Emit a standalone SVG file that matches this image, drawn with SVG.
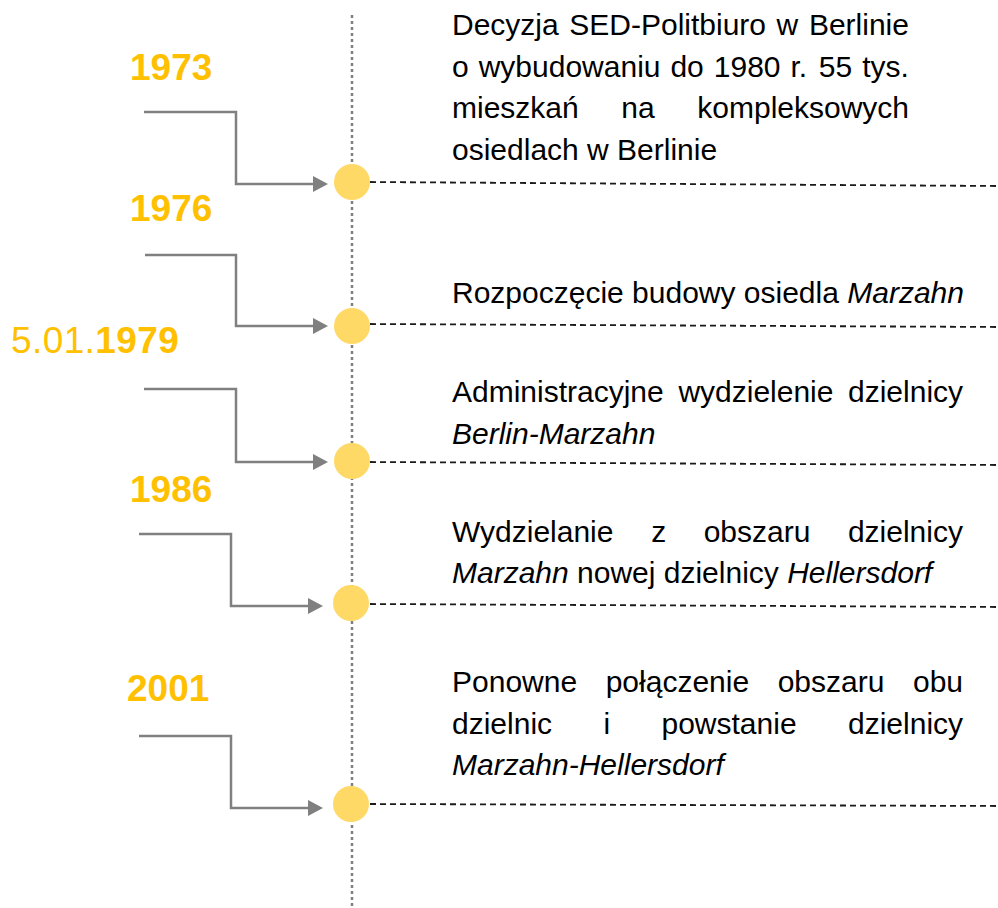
<svg xmlns="http://www.w3.org/2000/svg" width="998" height="908" viewBox="0 0 998 908">
<style>
.year{font-family:"Liberation Sans",Arial,sans-serif;font-size:37px;font-weight:bold;fill:#FFC000}
.yearR{font-weight:normal}
.txt{font-family:"Liberation Sans",Arial,sans-serif;font-size:30px;fill:#000}
.it{font-style:italic}
.conn{fill:none;stroke:#808080;stroke-width:2.5}
.axis{fill:none;stroke:#808080;stroke-width:2.5;stroke-dasharray:3 3}
.dash{fill:none;stroke:#1a1a1a;stroke-width:1.8;stroke-dasharray:6 4}
.dot{fill:#FFD966}
</style>
<defs>
<marker id="arr" viewBox="0 0 15 16" refX="1" refY="8" markerWidth="15" markerHeight="16" markerUnits="userSpaceOnUse" orient="auto">
<path d="M0,0 L15,8 L0,16 z" fill="#808080"/>
</marker>
</defs>

<g id="axis">
<line class="axis" x1="352" y1="15" x2="352" y2="908"/>
</g>

<g id="connectors">
<path class="conn" d="M144,112 H236 V184 H314" marker-end="url(#arr)"/>
<path class="conn" d="M145,255 H236 V326 H314" marker-end="url(#arr)"/>
<path class="conn" d="M144,389 H236 V462 H314" marker-end="url(#arr)"/>
<path class="conn" d="M139,534 H231 V606 H309" marker-end="url(#arr)"/>
<path class="conn" d="M139,736 H231 V808 H309" marker-end="url(#arr)"/>
<line class="dash" x1="370" y1="182" x2="998" y2="186"/>
<line class="dash" x1="370" y1="324" x2="998" y2="327"/>
<line class="dash" x1="370" y1="462" x2="998" y2="465"/>
<line class="dash" x1="370" y1="604" x2="998" y2="607"/>
<line class="dash" x1="370" y1="804" x2="998" y2="806"/>
</g>

<g id="event-1973">
<text class="year" x="130" y="80">1973</text>
<circle class="dot" cx="352" cy="182" r="18"/>
<text class="txt" y="35"><tspan x="452">Decyzja</tspan><tspan x="569.3">SED-Politbiuro</tspan><tspan x="776.6">w</tspan><tspan x="808.9">Berlinie</tspan></text>
<text class="txt" y="76.5"><tspan x="452">o</tspan><tspan x="478.7">wybudowaniu</tspan><tspan x="670.4">do</tspan><tspan x="713.8">1980</tspan><tspan x="790.5">r.</tspan><tspan x="818.8">55</tspan><tspan x="862.2">tys.</tspan></text>
<text class="txt" y="118"><tspan x="452">mieszkań</tspan><tspan x="621.3">na</tspan><tspan x="697.3">kompleksowych</tspan></text>
<text class="txt" x="452" y="159.5">osiedlach w Berlinie</text>
</g>

<g id="event-1976">
<text class="year" x="130" y="221">1976</text>
<circle class="dot" cx="352" cy="326" r="18"/>
<text class="txt" x="452" y="303">Rozpoczęcie budowy osiedla <tspan class="it">Marzahn</tspan></text>
</g>

<g id="event-1979">
<text class="year" x="11" y="353" letter-spacing="0.4"><tspan class="yearR">5.01.</tspan>1979</text>
<circle class="dot" cx="352" cy="461" r="18"/>
<text class="txt" y="402"><tspan x="452">Administracyjne</tspan><tspan x="678.4">wydzielenie</tspan><tspan x="848">dzielnicy</tspan></text>
<text class="txt it" x="452" y="443.5">Berlin-Marzahn</text>
</g>

<g id="event-1986">
<text class="year" x="130" y="502">1986</text>
<circle class="dot" cx="351" cy="603" r="18"/>
<text class="txt" y="541.5"><tspan x="452">Wydzielanie</tspan><tspan x="651.2">z</tspan><tspan x="703.7">obszaru</tspan><tspan x="847.9">dzielnicy</tspan></text>
<text class="txt" x="452" y="583"><tspan class="it">Marzahn</tspan> nowej dzielnicy <tspan class="it">Hellersdorf</tspan></text>
</g>

<g id="event-2001">
<text class="year" x="127" y="701">2001</text>
<circle class="dot" cx="351" cy="804" r="18"/>
<text class="txt" y="692"><tspan x="452">Ponowne</tspan><tspan x="605.7">połączenie</tspan><tspan x="777.7">obszaru</tspan><tspan x="913">obu</tspan></text>
<text class="txt" y="733.5"><tspan x="452">dzielnic</tspan><tspan x="603.4">i</tspan><tspan x="661.5">powstanie</tspan><tspan x="848">dzielnicy</tspan></text>
<text class="txt it" x="452" y="775">Marzahn-Hellersdorf</text>
</g>
</svg>
